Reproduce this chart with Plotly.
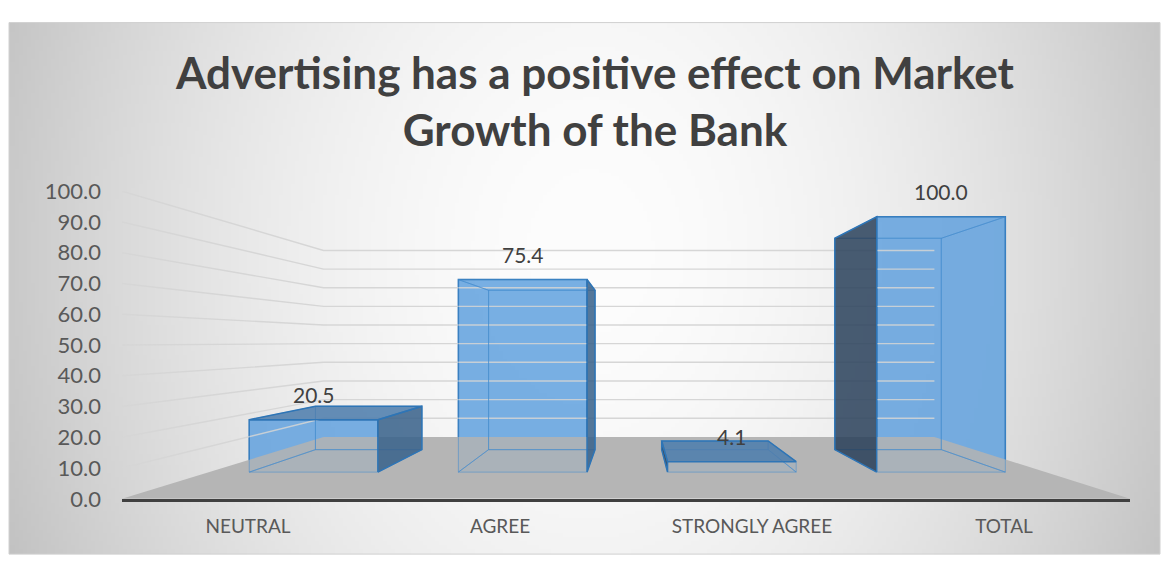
import base64
import struct
import zlib

import numpy as np
import plotly.graph_objects as go

# ---------------- data ----------------
categories = ["NEUTRAL", "AGREE", "STRONGLY AGREE", "TOTAL"]
values = [20.5, 75.4, 4.1, 100.0]
y_ticks = [0, 10, 20, 30, 40, 50, 60, 70, 80, 90, 100]
title_text = "Advertising has a positive effect on Market<br>Growth of the Bank"

# ---------------- canvas ----------------
W, H = 1167, 569


def py_(Y):
    """pixel row -> paper fraction"""
    return 1 - Y / H


# ---------------- 3D look (perspective toward a vanishing point) ----------------
VPX, VPY = 1.53, 51.1       # vanishing point in axis units
SF, SB, SW = 0.83, 0.687, 0.606   # depth scale: bar front, bar back, back wall
HW = 0.3075                 # half bar width (category units)


def proj(x, y, s):
    return VPX + (x - VPX) * s, VPY + (y - VPY) * s


def poly(pts):
    xs, ys = [], []
    for (x, y, s) in pts:
        px, py = proj(x, y, s)
        xs.append(px)
        ys.append(py)
    xs.append(xs[0])
    ys.append(ys[0])
    return xs, ys


fig = go.Figure()

# floor
fx, fy = poly([(-0.5, 0, 1.0), (3.5, 0, 1.0), (3.5, 0, SW), (-0.5, 0, SW)])
fig.add_trace(go.Scatter(x=fx, y=fy, mode="lines", fill="toself",
                         fillcolor="#b5b5b5", line=dict(width=0, color="#b5b5b5"),
                         hoverinfo="skip"))

# wall gridlines (side wall + back wall)
gx, gy = [], []
for v in y_ticks[1:]:
    for (x, y, s) in [(-0.5, v, 1.0), (-0.5, v, SW), (3.5, v, SW)]:
        px, py = proj(x, y, s)
        gx.append(px)
        gy.append(py)
    gx.append(None)
    gy.append(None)
fig.add_trace(go.Scatter(x=gx, y=gy, mode="lines",
                         line=dict(color="#d6d6d6", width=1.4), hoverinfo="skip"))

EDGE = "#2e75b6"
for i, v in enumerate(values):
    xl, xr = i - HW, i + HW
    faces_hidden = []
    faces_visible = []
    back = [(xl, 0, SB), (xr, 0, SB), (xr, v, SB), (xl, v, SB)]
    bottom = [(xl, 0, SF), (xr, 0, SF), (xr, 0, SB), (xl, 0, SB)]
    left = [(xl, 0, SF), (xl, 0, SB), (xl, v, SB), (xl, v, SF)]
    right = [(xr, 0, SF), (xr, 0, SB), (xr, v, SB), (xr, v, SF)]
    top = [(xl, v, SF), (xr, v, SF), (xr, v, SB), (xl, v, SB)]
    faces_hidden += [back, bottom]
    if xr < VPX:
        faces_hidden.append(left)
        faces_visible.append((right, "rgba(58,98,138,0.85)"))
    else:
        faces_hidden.append(right)
        faces_visible.append((left, "rgba(38,60,85,0.82)"))
    if v < VPY:
        faces_visible.append((top, "rgba(78,125,172,0.85)"))
    else:
        faces_hidden.append(top)
    for f in faces_hidden:
        px, py = poly(f)
        fig.add_trace(go.Scatter(x=px, y=py, mode="lines", fill="toself",
                                 fillcolor="rgba(91,155,213,0.12)",
                                 line=dict(color="rgba(70,140,205,0.55)", width=1),
                                 hoverinfo="skip"))
    for f, col in faces_visible:
        px, py = poly(f)
        fig.add_trace(go.Scatter(x=px, y=py, mode="lines", fill="toself",
                                 fillcolor=col, line=dict(color=EDGE, width=1.5),
                                 hoverinfo="skip"))

# front faces of the bars
cx = [VPX + (i - VPX) * SF for i in range(len(values))]
base0 = VPY * (1 - SF)
fig.add_trace(go.Bar(
    x=cx, y=[v * SF for v in values], base=[base0] * len(values),
    width=2 * HW * SF,
    marker=dict(color="rgba(100,163,224,0.84)", line=dict(color=EDGE, width=1.5)),
    hoverinfo="skip"))

# data labels
for i, v in enumerate(values):
    ty = VPY + (v - VPY) * SF
    fig.add_annotation(x=cx[i], y=ty, text=f"{v:.1f}", showarrow=False,
                       yshift=25, font=dict(family="Lato", size=21, color="#404040"))


# ---------------- background gradient ----------------
def png_data_uri(arr):
    h, w, _ = arr.shape
    raw = b"".join(b"\x00" + arr[r].tobytes() for r in range(h))

    def chunk(t, d):
        return struct.pack(">I", len(d)) + t + d + struct.pack(">I", zlib.crc32(t + d) & 0xFFFFFFFF)
    data = (b"\x89PNG\r\n\x1a\n" + chunk(b"IHDR", struct.pack(">IIBBBBB", w, h, 8, 2, 0, 0, 0))
            + chunk(b"IDAT", zlib.compress(raw, 9)) + chunk(b"IEND", b""))
    return "data:image/png;base64," + base64.b64encode(data).decode()


L, T, R, B = 9, 9, 1160, 567
gw, gh = 288, 140
jj = (np.arange(gw) + 0.5) / gw * (R - L) + L
ii = (np.arange(gh) + 0.5) / gh * (B - T) + T
XX, YY = np.meshgrid(jj, ii)
d = np.sqrt(((XX - 590) / 585) ** 2 + ((YY - 250) / 800) ** 2)
c = 253 - 52 * np.clip(d, 0, 1.3) ** 1.8
img = np.clip(np.stack([c, c, c], axis=-1), 0, 255).astype(np.uint8)

fig.add_layout_image(dict(source=png_data_uri(img), xref="paper", yref="paper",
                          x=L / W, y=py_(T), sizex=(R - L) / W, sizey=(B - T) / H,
                          xanchor="left", yanchor="top", sizing="stretch", layer="below"))
fig.add_shape(type="rect", xref="paper", yref="paper",
              x0=L / W, x1=R / W, y0=py_(B), y1=py_(T),
              line=dict(color="#d0d0d0", width=1), layer="below")

fig.update_layout(
    width=W, height=H, margin=dict(l=0, r=0, t=0, b=0),
    paper_bgcolor="white", plot_bgcolor="rgba(0,0,0,0)", showlegend=False,
    title=dict(text=title_text, x=595 / W, xanchor="center", y=py_(89), yanchor="middle",
               font=dict(family="Lato", size=44, color="#404040", weight="bold")),
    xaxis=dict(domain=[122 / W, 1130 / W], range=[-0.5, 3.5],
               tickvals=[0, 1, 2, 3], ticktext=categories,
               showgrid=False, zeroline=False, showline=True,
               linecolor="#404040", linewidth=3, ticks="",
               ticklabelstandoff=8,
               tickfont=dict(family="Lato", size=19, color="#595959")),
    yaxis=dict(domain=[py_(509), py_(186)], range=[0, 100],
               tickvals=y_ticks, tickformat=".1f",
               showgrid=False, zeroline=False, showline=False, ticks="",
               ticklabelstandoff=20,
               tickfont=dict(family="Lato", size=22, color="#595959")),
)

fig.write_html("out.html")
